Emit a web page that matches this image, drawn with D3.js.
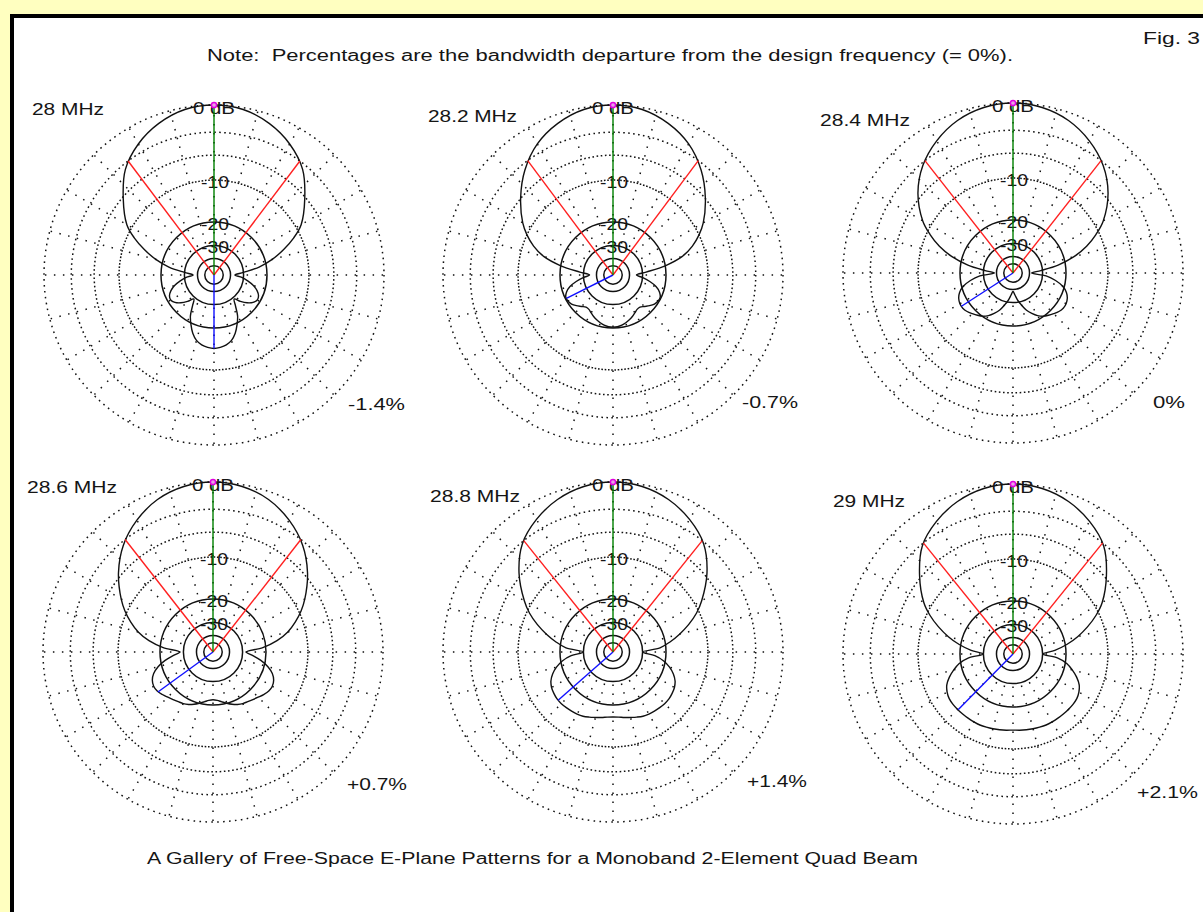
<!DOCTYPE html>
<html>
<head>
<meta charset="utf-8">
<script src="https://cdnjs.cloudflare.com/ajax/libs/d3/7.8.5/d3.min.js"></script>
<style>
  html, body { margin: 0; padding: 0; background: #ffffc0; }
  svg { display: block; }
  text { font-family: "Liberation Sans", Arial, sans-serif; fill: #151515; white-space: pre; }
</style>
</head>
<body>
<div id="chart"></div>
<script>
// azimuth from forward (deg), one side only - the E-plane patterns are symmetric
const angles = [0, 10, 20, 30, 40, 50, 60, 65, 70, 75, 80, 85, 90, 95, 100, 105, 110,
                115, 120, 125, 130, 135, 140, 145, 150, 155, 160, 165, 170, 175, 180];

const freqLabels = ["28 MHz", "28.2 MHz", "28.4 MHz", "28.6 MHz", "28.8 MHz", "29 MHz"];
const pctLabels = ["-1.4%", "-0.7%", "0%", "+0.7%", "+1.4%", "+2.1%"];

// relative gain (dB)
const gain280 = [0, -0.2, -0.9, -2.0, -3.6, -6.2, -9.0, -11.3, -14.3, -17.8, -22.5, -30, -36, -31, -27.5, -24.5,
                 -22.5, -21.3, -21, -21.8, -23.5, -26, -29, -26, -22, -19.5, -17.3, -15.8, -15, -14.6, -14.4];
const gain282 = [0, -0.2, -0.9, -2.0, -3.7, -5.9, -8.4, -10.0, -12.0, -14.8, -20, -28, -34, -30, -26, -23,
                 -21.2, -20.3, -20.3, -20.8, -21.8, -23, -24, -24, -23.3, -22.5, -21.8, -21.2, -20.7, -20.4, -20.3];
const gain284 = [0, -0.2, -0.8, -1.85, -3.3, -5.4, -8.4, -10.6, -13.3, -17, -22.5, -31, -38, -28, -23.5, -20.5,
                 -18.8, -17.9, -17.5, -17.5, -17.9, -18.6, -19.3, -20.1, -21.3, -23, -25, -28, -31, -35, -38];
const gain286 = [0, -0.2, -0.8, -1.9, -3.4, -5.5, -8.1, -9.6, -11.4, -13.5, -16.5, -21, -28, -25, -21.5, -18.8,
                 -17, -16, -15.6, -15.7, -16.2, -16.8, -17.3, -17.7, -18, -18.5, -19.2, -20, -20.8, -21.5, -21.8];
const gain288 = [0, -0.2, -0.8, -1.8, -3.2, -5.6, -8.7, -10.5, -12.8, -15.5, -18.5, -22, -30, -24, -20.5, -18.3,
                 -16.7, -15.6, -15, -14.7, -14.5, -14.5, -14.6, -14.7, -14.8, -15, -15.4, -15.8, -16.1, -16.4, -16.5];
const gain290 = [0, -0.2, -0.8, -1.8, -3.2, -5.7, -8.6, -10.6, -13.1, -16, -19.5, -24, -30, -23, -19.5, -17.5,
                 -15.8, -14.5, -13.8, -13.4, -13.3, -13.3, -13.3, -13.3, -13.3, -13.3, -13.4, -13.5, -13.6, -13.7, -13.8];

const gains = [gain280, gain282, gain284, gain286, gain288, gain290];

// -3 dB half-beamwidth (deg) and worst rear lobe (deg, dB)
const halfBeam = [37, 36.7, 38.1, 38, 38.7, 38.9];
const rearAngle = [180, 116.6, 122.8, 126, 131.3, 135.5];
const rearGain = [-14.4, -20.3, -17.5, -15.7, -14.5, -13.3];

const gridRings = [0, -3, -6, -10, -20, -30, -40, -50];
const ringLabels = [-10, -20, -30];

// layout
const W = 1203, H = 912, R = 170;
const centers = [[214, 275], [613, 275], [1013, 273], [213, 652], [613, 652], [1013, 654]];
const freqPos = [[32, 115, 72], [428, 122, 89], [820, 126, 90], [27, 493, 90], [430, 502, 90], [833, 507, 72]];
const pctPos = [[348, 410, 57], [742, 408, 56], [1153, 408, 32], [347, 790, 60], [747, 787, 60], [1137, 798, 61]];

// ARRL log scale: radius shrinks by 0.89 each 2 dB  ->  power law on power ratio
const k = (Math.log(0.89) / -2) * 10 / Math.LN10;
const r = d3.scalePow().exponent(k).domain([0, 1]).range([0, R]);
const rad = db => r(Math.pow(10, db / 10));
const toRad = a => a * Math.PI / 180;

const svg = d3.select("#chart").append("svg")
    .attr("width", W)
    .attr("height", H);

svg.append("rect")
    .attr("width", W).attr("height", H)
    .attr("fill", "#ffffc0");

svg.append("rect")
    .attr("x", 12).attr("y", 16)
    .attr("width", W + 20).attr("height", H + 20)
    .attr("fill", "#fff")
    .attr("stroke", "#000")
    .attr("stroke-width", 4);

const label = (x, y, len, str) => svg.append("text")
    .attr("x", x).attr("y", y)
    .attr("font-size", 16)
    .attr("textLength", len)
    .attr("lengthAdjust", "spacingAndGlyphs")
    .text(str);

label(207, 61, 806, "Note:  Percentages are the bandwidth departure from the design frequency (= 0%).");
label(1143, 44, 57, "Fig. 3");
label(147, 864, 771, "A Gallery of Free-Space E-Plane Patterns for a Monoband 2-Element Quad Beam");

const line = d3.lineRadial()
    .angle(d => toRad(d.a))
    .radius(d => rad(d.g))
    .curve(d3.curveCatmullRomClosed.alpha(0.5));

const polarPt = (a, db) => [rad(db) * Math.sin(toRad(a)), -rad(db) * Math.cos(toRad(a))];

gains.forEach((g, i) => {
  const c = centers[i];
  const plot = svg.append("g").attr("transform", `translate(${c[0]},${c[1]})`);

  // dotted rings: 180 dots per ring, so the inner rings close up
  plot.append("g").selectAll("circle")
    .data(gridRings)
    .enter().append("circle")
      .attr("r", d => rad(d))
      .attr("fill", "none")
      .attr("stroke", "#111")
      .attr("stroke-width", 1.5)
      .attr("stroke-dasharray", d => {
        const step = 2 * Math.PI * rad(d) / 180;
        return step > 2 ? `1.6 ${step - 1.6}` : null;
      });

  // dotted spokes every 15 deg
  plot.append("g").selectAll("line")
    .data(d3.range(0, 360, 15))
    .enter().append("line")
      .attr("x1", a => polarPt(a, -30)[0]).attr("y1", a => polarPt(a, -30)[1])
      .attr("x2", a => polarPt(a, 0)[0]).attr("y2", a => polarPt(a, 0)[1])
      .attr("stroke", "#111")
      .attr("stroke-width", 1.5)
      .attr("stroke-dasharray", "1.5 7.5")
      .attr("stroke-dashoffset", -3);

  // full pattern: right half then mirrored left half
  const pts = angles.map((a, j) => ({ a: a, g: g[j] }));
  for (let j = angles.length - 2; j > 0; j--) pts.push({ a: -angles[j], g: g[j] });

  plot.append("path")
    .attr("d", line(pts))
    .attr("fill", "none")
    .attr("stroke", "#111")
    .attr("stroke-width", 1.4);

  plot.selectAll(".rl")
    .data(ringLabels)
    .enter().append("text")
      .attr("class", "rl")
      .attr("x", 1)
      .attr("y", d => -rad(d) + 8)
      .attr("text-anchor", "middle")
      .attr("font-size", 17)
      .attr("textLength", 28)
      .attr("lengthAdjust", "spacingAndGlyphs")
      .text(d => d);

  plot.append("text")
    .attr("x", 0).attr("y", -R + 9)
    .attr("text-anchor", "middle")
    .attr("font-size", 17)
    .attr("textLength", 42)
    .attr("lengthAdjust", "spacingAndGlyphs")
    .text("0 dB");

  const seg = (p, color) => plot.append("line")
    .attr("x1", 0).attr("y1", 0)
    .attr("x2", p[0]).attr("y2", p[1])
    .attr("stroke", color)
    .attr("stroke-width", 1.4);

  seg(polarPt(halfBeam[i], -3), "#ff2020");
  seg(polarPt(-halfBeam[i], -3), "#ff2020");
  seg(polarPt(-rearAngle[i], rearGain[i]), "#1010ff");
  seg(polarPt(0, 0), "#008000");

  plot.append("circle")
    .attr("cx", 0).attr("cy", -R)
    .attr("r", 2.6)
    .attr("fill", "#e8a0e8")
    .attr("stroke", "#e000e0")
    .attr("stroke-width", 1.5);

  svg.append("text")
    .attr("x", freqPos[i][0]).attr("y", freqPos[i][1])
    .attr("font-size", 17)
    .attr("textLength", freqPos[i][2])
    .attr("lengthAdjust", "spacingAndGlyphs")
    .text(freqLabels[i]);

  svg.append("text")
    .attr("x", pctPos[i][0]).attr("y", pctPos[i][1])
    .attr("font-size", 17)
    .attr("textLength", pctPos[i][2])
    .attr("lengthAdjust", "spacingAndGlyphs")
    .text(pctLabels[i]);
});
</script>
</body>
</html>
